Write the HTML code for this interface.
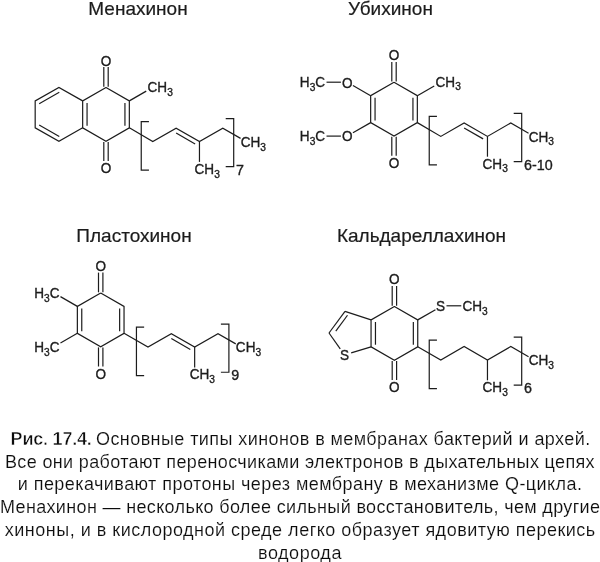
<!DOCTYPE html>
<html lang="ru">
<head>
<meta charset="utf-8">
<title>Рис. 17.4</title>
<style>
html,body{margin:0;padding:0;background:#fff;}
body{width:600px;height:562px;overflow:hidden;font-family:"Liberation Sans",sans-serif;}
svg{display:block;will-change:transform;}
.titles text{stroke:#1c1c1c;stroke-width:0.2px;}
.atoms text{stroke:#1c1c1c;stroke-width:0.35px;}
svg text{font-family:"Liberation Sans",sans-serif;fill:#1c1c1c;}
.bonds line,.bonds polyline{stroke:#1c1c1c;stroke-width:1.2;fill:none;stroke-linecap:butt;stroke-linejoin:miter;}
.cap text{font-size:18px;fill:#0c0c0c;stroke:#fff;stroke-width:0.15px;}
.cap text.b{font-weight:bold;stroke-width:0.5px;}
</style>
</head>
<body>
<svg width="600" height="562" viewBox="0 0 600 562">
<rect width="600" height="562" fill="#ffffff"/>
<g class="titles">
<text x="138" y="14.6" font-size="19" text-anchor="middle">Менахинон</text>
<text x="390.5" y="14.6" font-size="19" text-anchor="middle">Убихинон</text>
<text x="134" y="241.7" font-size="19" text-anchor="middle">Пластохинон</text>
<text x="421.5" y="241.7" font-size="19" text-anchor="middle">Кальдареллахинон</text>
</g>
<g class="bonds">
<polyline points="106,87.4 129.34,100.88 129.34,127.82 106,141.3 82.66,127.82 82.66,100.87 106,87.4"/>
<polyline points="82.66,100.88 58.92,87.4 35.18,100.87 35.18,127.82 58.92,141.3 82.66,127.82"/>
<line x1="124.94" y1="102.97" x2="124.94" y2="125.72"/>
<line x1="87.06" y1="102.97" x2="87.06" y2="125.72"/>
<line x1="59.27" y1="92.26" x2="39.18" y2="103.66"/>
<line x1="39.18" y1="125.04" x2="59.27" y2="136.44"/>
<line x1="103.8" y1="86.8" x2="103.8" y2="67.1"/>
<line x1="108.2" y1="86.8" x2="108.2" y2="67.1"/>
<line x1="103.8" y1="141.9" x2="103.8" y2="161"/>
<line x1="108.2" y1="141.9" x2="108.2" y2="161"/>
<line x1="129.34" y1="100.88" x2="146.23" y2="91.12"/>
<polyline points="129.34,127.82 152.78,141.6 176.12,128.12 199.46,141.6 222.8,128.12 240.55,138.38"/>
<line x1="176.13" y1="133.1" x2="195.14" y2="144.07"/>
<line x1="199.46" y1="141.6" x2="199.46" y2="161.9"/>
<polyline points="148.94,121.62 141.24,121.62 141.24,170.12 148.94,170.12"/>
<polyline points="225.7,118.62 233.7,118.62 233.7,166.72 225.7,166.72"/>
<polyline points="394,82.2 417.34,95.68 417.34,122.62 394,136.1 370.66,122.62 370.66,95.67 394,82.2"/>
<line x1="412.94" y1="97.78" x2="412.94" y2="120.53"/>
<line x1="375.06" y1="97.77" x2="375.06" y2="120.53"/>
<line x1="391.8" y1="81.6" x2="391.8" y2="61.9"/>
<line x1="396.2" y1="81.6" x2="396.2" y2="61.9"/>
<line x1="391.8" y1="136.7" x2="391.8" y2="155.8"/>
<line x1="396.2" y1="136.7" x2="396.2" y2="155.8"/>
<line x1="417.34" y1="95.68" x2="434.23" y2="85.93"/>
<line x1="370.66" y1="95.67" x2="352.95" y2="85.45"/>
<line x1="340.92" y1="82.2" x2="326.52" y2="82.2"/>
<line x1="370.66" y1="122.62" x2="352.95" y2="132.85"/>
<line x1="340.92" y1="136.1" x2="326.52" y2="136.1"/>
<polyline points="417.34,122.62 440.78,136.4 464.12,122.93 487.46,136.4 510.8,122.93 528.55,133.18"/>
<line x1="464.13" y1="127.9" x2="483.14" y2="138.87"/>
<line x1="487.46" y1="136.4" x2="487.46" y2="156.7"/>
<polyline points="436.94,116.42 429.24,116.42 429.24,164.93 436.94,164.93"/>
<polyline points="513.7,113.42 521.7,113.42 521.7,161.53 513.7,161.53"/>
<polyline points="100.7,292.9 124.04,306.38 124.04,333.33 100.7,346.8 77.36,333.33 77.36,306.38 100.7,292.9"/>
<line x1="119.64" y1="308.48" x2="119.64" y2="331.23"/>
<line x1="81.76" y1="308.48" x2="81.76" y2="331.23"/>
<line x1="98.5" y1="292.3" x2="98.5" y2="272.6"/>
<line x1="102.9" y1="292.3" x2="102.9" y2="272.6"/>
<line x1="98.5" y1="347.4" x2="98.5" y2="366.5"/>
<line x1="102.9" y1="347.4" x2="102.9" y2="366.5"/>
<line x1="77.36" y1="306.38" x2="60.47" y2="296.62"/>
<line x1="77.36" y1="333.33" x2="60.47" y2="343.08"/>
<polyline points="124.04,333.33 147.98,347.1 171.32,333.63 194.66,347.1 218,333.63 235.75,343.88"/>
<line x1="171.33" y1="338.6" x2="190.34" y2="349.57"/>
<line x1="194.66" y1="347.1" x2="194.66" y2="367.4"/>
<polyline points="144.14,327.13 136.44,327.13 136.44,375.63 144.14,375.63"/>
<polyline points="220.9,324.13 228.9,324.13 228.9,372.23 220.9,372.23"/>
<polyline points="394.4,306.4 417.74,319.88 417.74,346.83 394.4,360.3 371.06,346.83 371.06,319.88 394.4,306.4"/>
<line x1="413.34" y1="321.98" x2="413.34" y2="344.73"/>
<line x1="375.46" y1="321.98" x2="375.46" y2="344.73"/>
<line x1="392.2" y1="305.8" x2="392.2" y2="286.1"/>
<line x1="396.6" y1="305.8" x2="396.6" y2="286.1"/>
<line x1="392.2" y1="360.9" x2="392.2" y2="380"/>
<line x1="396.6" y1="360.9" x2="396.6" y2="380"/>
<line x1="371.06" y1="319.88" x2="345" y2="311.4"/>
<line x1="345" y1="311.4" x2="329" y2="333"/>
<line x1="347.5" y1="315.25" x2="335.79" y2="331.06"/>
<line x1="329" y1="333" x2="340.24" y2="348.95"/>
<line x1="371.06" y1="346.83" x2="351.19" y2="352.94"/>
<line x1="417.74" y1="319.88" x2="435.45" y2="309.65"/>
<line x1="446.48" y1="305.8" x2="461.28" y2="305.8"/>
<polyline points="417.74,346.83 440.78,360 464.12,346.53 487.46,360 510.8,346.53 528.55,356.78"/>
<line x1="487.46" y1="360" x2="487.46" y2="380.3"/>
<polyline points="436.94,340.03 429.24,340.03 429.24,388.53 436.94,388.53"/>
<polyline points="513.7,337.03 521.7,337.03 521.7,385.12 513.7,385.12"/>
</g>
<g class="atoms">
<text transform="translate(106 65.5) scale(0.97 1)" font-size="14" text-anchor="middle">O</text>
<text transform="translate(106 172.9) scale(0.97 1)" font-size="14" text-anchor="middle">O</text>
<text transform="translate(147.53 92.03) scale(0.97 1)" font-size="14" text-anchor="start">CH<tspan font-size="10.5" dy="3.6">3</tspan></text>
<text transform="translate(194.56 173.9) scale(0.97 1)" font-size="14" text-anchor="start">CH<tspan font-size="10.5" dy="3.6">3</tspan></text>
<text transform="translate(240.65 146.97) scale(0.97 1)" font-size="14" text-anchor="start">CH<tspan font-size="10.5" dy="3.6">3</tspan></text>
<text transform="translate(236.1 174.92) scale(1.02 1)" font-size="14" text-anchor="start">7</text>
<text transform="translate(394 60.3) scale(0.97 1)" font-size="14" text-anchor="middle">O</text>
<text transform="translate(394 167.7) scale(0.97 1)" font-size="14" text-anchor="middle">O</text>
<text transform="translate(435.53 86.83) scale(0.97 1)" font-size="14" text-anchor="start">CH<tspan font-size="10.5" dy="3.6">3</tspan></text>
<text transform="translate(347.32 87.5) scale(0.97 1)" font-size="14" text-anchor="middle">O</text>
<text transform="translate(325.12 87.4) scale(0.97 1)" font-size="14" text-anchor="end">H<tspan font-size="10.5" dy="3.6">3</tspan><tspan dy="-3.6">C</tspan></text>
<text transform="translate(347.32 141.4) scale(0.97 1)" font-size="14" text-anchor="middle">O</text>
<text transform="translate(325.12 141.3) scale(0.97 1)" font-size="14" text-anchor="end">H<tspan font-size="10.5" dy="3.6">3</tspan><tspan dy="-3.6">C</tspan></text>
<text transform="translate(482.56 168.7) scale(0.97 1)" font-size="14" text-anchor="start">CH<tspan font-size="10.5" dy="3.6">3</tspan></text>
<text transform="translate(528.65 141.78) scale(0.97 1)" font-size="14" text-anchor="start">CH<tspan font-size="10.5" dy="3.6">3</tspan></text>
<text transform="translate(524.1 169.72) scale(1.02 1)" font-size="14" text-anchor="start">6-10</text>
<text transform="translate(100.7 271) scale(0.97 1)" font-size="14" text-anchor="middle">O</text>
<text transform="translate(100.7 379.1) scale(0.97 1)" font-size="14" text-anchor="middle">O</text>
<text transform="translate(59.47 298.23) scale(0.97 1)" font-size="14" text-anchor="end">H<tspan font-size="10.5" dy="3.6">3</tspan><tspan dy="-3.6">C</tspan></text>
<text transform="translate(59.47 351.98) scale(0.97 1)" font-size="14" text-anchor="end">H<tspan font-size="10.5" dy="3.6">3</tspan><tspan dy="-3.6">C</tspan></text>
<text transform="translate(189.76 379.4) scale(0.97 1)" font-size="14" text-anchor="start">CH<tspan font-size="10.5" dy="3.6">3</tspan></text>
<text transform="translate(235.85 352.48) scale(0.97 1)" font-size="14" text-anchor="start">CH<tspan font-size="10.5" dy="3.6">3</tspan></text>
<text transform="translate(231.3 380.43) scale(1.02 1)" font-size="14" text-anchor="start">9</text>
<text transform="translate(394.4 283.8) scale(0.97 1)" font-size="14" text-anchor="middle">O</text>
<text transform="translate(394.4 391.9) scale(0.97 1)" font-size="14" text-anchor="middle">O</text>
<text transform="translate(344.5 360) scale(0.97 1)" font-size="14" text-anchor="middle">S</text>
<text transform="translate(440.58 311) scale(0.97 1)" font-size="14" text-anchor="middle">S</text>
<text transform="translate(462.38 310.9) scale(0.97 1)" font-size="14" text-anchor="start">CH<tspan font-size="10.5" dy="3.6">3</tspan></text>
<text transform="translate(482.56 392.3) scale(0.97 1)" font-size="14" text-anchor="start">CH<tspan font-size="10.5" dy="3.6">3</tspan></text>
<text transform="translate(528.65 365.38) scale(0.97 1)" font-size="14" text-anchor="start">CH<tspan font-size="10.5" dy="3.6">3</tspan></text>
<text transform="translate(524.1 393.33) scale(1.02 1)" font-size="14" text-anchor="start">6</text>
</g>
<g class="cap">
<text class="b" x="10.6" y="444.8" textLength="81.2" lengthAdjust="spacing">Рис. 17.4.</text>
<text x="96" y="444.8" textLength="494.2" lengthAdjust="spacing">Основные типы хинонов в мембранах бактерий и архей.</text>
<text x="5" y="467.55" textLength="589.6" lengthAdjust="spacing">Все они работают переносчиками электронов в дыхательных цепях</text>
<text x="17.8" y="490.3" textLength="564.2" lengthAdjust="spacing">и перекачивают протоны через мембрану в механизме Q-цикла.</text>
<text x="0" y="513.05" textLength="600" lengthAdjust="spacing">Менахинон — несколько более сильный восстановитель, чем другие</text>
<text x="4.8" y="535.8" textLength="590.4" lengthAdjust="spacing">хиноны, и в кислородной среде легко образует ядовитую перекись</text>
<text x="258" y="558.55" textLength="83.4" lengthAdjust="spacing">водорода</text>
</g>
</svg>
</body>
</html>
